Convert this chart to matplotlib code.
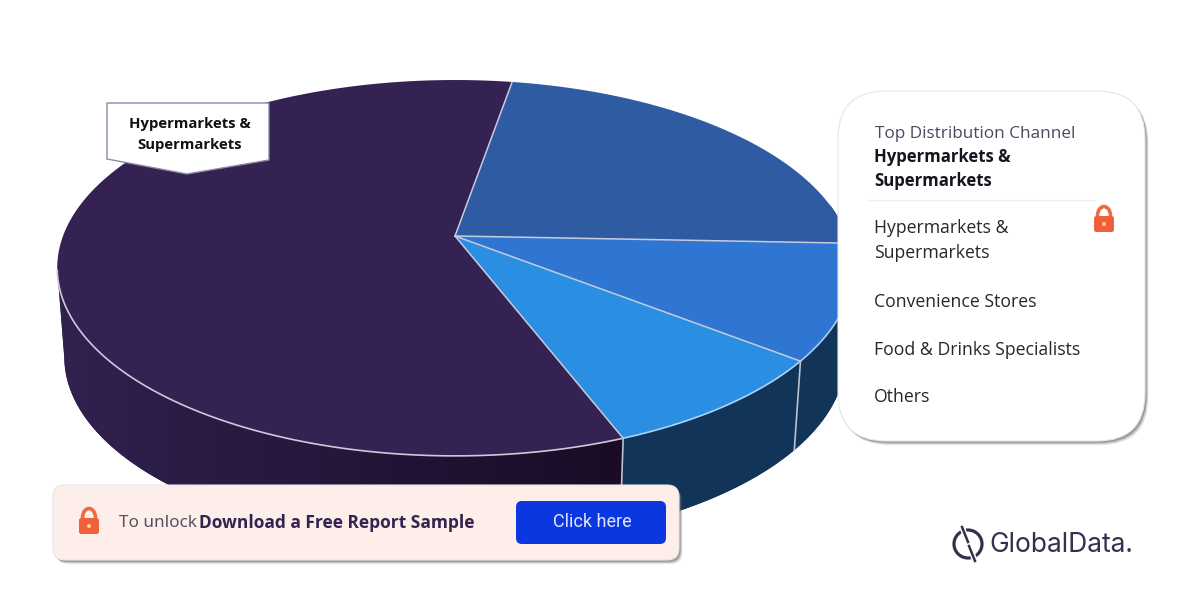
import numpy as np
import matplotlib
matplotlib.use("Agg")
import matplotlib.pyplot as plt
from matplotlib.patches import FancyBboxPatch, Polygon, Circle, Arc
from matplotlib.colors import LinearSegmentedColormap

# shares of the pie, clockwise from the top edge
channels = ["Convenience Stores", "Food & Drinks Specialists", "Others", "Hypermarkets & Supermarkets"]
shares = [22.9, 9.9, 8.6, 58.6]
start_angle = 80.2

top_colors = ["#2f5ba3", "#2f76d2", "#2a8fe3", "#342352"]
rim_colors = ["#c9d4ea", "#a9cdf2", "#a9d4f5", "#cfc8dc"]

legend_items = ["Hypermarkets &\nSupermarkets", "Convenience Stores", "Food & Drinks Specialists", "Others"]
legend_y = [240.5, 302, 350, 397.5]

plt.rcParams["font.family"] = ["Open Sans", "DejaVu Sans"]

fig = plt.figure(figsize=(12, 6), dpi=100)
ax = fig.add_axes([0, 0, 1, 1])


def top_xy(t):
    # perspective view of the pie's upper face
    t = np.radians(t)
    w = 1 + 0.17 * np.sin(t)
    return 455 + 392 * np.cos(t) / w, 236 - 182.5 * np.sin(t) / w


def low_xy(t):
    # same thing for the bottom edge of the wall
    t = np.radians(t)
    w = 1 + 0.17 * np.sin(t)
    return 455 + 385 * np.cos(t) / w, 325 - 182.5 * np.sin(t) / w


def wall(t1, t2, c_left, c_right):
    ts = np.linspace(t1, t2, 120)
    xa, ya = top_xy(ts)
    xb, yb = low_xy(ts)
    pts = np.column_stack([np.r_[xa, xb[::-1]], np.r_[ya, yb[::-1]]])
    poly = Polygon(pts, closed=True, fc=c_left, ec="none", zorder=1)
    ax.add_patch(poly)
    cmap = LinearSegmentedColormap.from_list("w", [c_left, c_right])
    im = ax.imshow(np.linspace(0, 1, 200).reshape(1, -1), cmap=cmap, aspect="auto", zorder=1.1,
                   extent=[pts[:, 0].min(), pts[:, 0].max(), 600, 0])
    im.set_clip_path(poly)


def lock(cx, cy):
    ax.add_patch(Arc((cx, cy - 4), 13, 19, theta1=180, theta2=360, ec="#ee6a45", lw=2.6, zorder=8))
    ax.add_patch(FancyBboxPatch((cx - 10, cy - 4), 20, 16, boxstyle="round,pad=0,rounding_size=2.5",
                                fc="#f0603a", ec="none", zorder=8))
    ax.add_patch(Circle((cx, cy + 4), 2, fc="#fbd38a", ec="none", zorder=9))


def card(x, y, w, h, r, fc):
    for off, a in [(6, 0.10), (5, 0.16), (4, 0.22), (3, 0.30), (2, 0.35)]:
        ax.add_patch(FancyBboxPatch((x + off * 0.6, y + off * 0.7), w, h, boxstyle=f"round,pad=0,rounding_size={r}",
                                    fc="#6f6f6f", ec="none", alpha=a, zorder=5))
    ax.add_patch(FancyBboxPatch((x, y), w, h, boxstyle=f"round,pad=0,rounding_size={r}",
                                fc=fc, ec="#e6e6ea", lw=0.8, zorder=6))


# slice boundaries
edges = start_angle - np.cumsum([0] + shares) * 3.6

# side walls
wall(edges[3], -170, "#30214f", "#1a0b26")
wall(edges[3], 10, "#123459", "#12355a")

# upper face
for i in range(len(shares)):
    ts = np.linspace(edges[i], edges[i + 1], 200)
    x, y = top_xy(ts)
    ax.fill(np.r_[455, x], np.r_[236, y], color=top_colors[i], lw=0, zorder=2)
for i in range(len(shares)):
    ts = np.linspace(edges[i], edges[i + 1], 200)
    x, y = top_xy(ts)
    front = (ts < 0) & (ts > -170)
    ax.plot(x[front], y[front], color=rim_colors[i], lw=1.2, zorder=3)
    ex, ey = top_xy(edges[i])
    ax.plot([455, ex], [236, ey], color="#c4cbe0", lw=1.1, zorder=3)

# seams on the wall
for t in [edges[2], edges[3]]:
    xa, ya = top_xy(t)
    xb, yb = low_xy(t)
    ax.plot([xa, xb], [ya, yb], color="#b9c3d2", lw=1.2, zorder=3)

# callout on the big slice
ax.add_patch(Polygon([(107, 103), (269, 103), (269, 160), (187, 174), (107, 159)], closed=True,
                     fc="white", ec="#8d88a6", lw=1.0, zorder=4))
ax.text(190, 134.5, "Hypermarkets &\nSupermarkets", ha="center", va="center", fontsize=10.7,
        fontweight="bold", color="#111111", linespacing=1.55, zorder=5)

# legend card
card(838, 91, 307, 350, 48, "white")
ax.text(875, 134.5, "Top Distribution Channel", fontsize=12.3, color="#4b4860", va="center", zorder=7)
ax.text(874, 169, "Hypermarkets &\nSupermarkets", fontsize=12.1, fontweight="bold", color="#15151f",
        va="center", linespacing=1.47, zorder=7)
ax.plot([867, 1095], [200, 200], color="#efefef", lw=1, zorder=7)
for label, y in zip(legend_items, legend_y):
    ax.text(874, y, label, fontsize=12.7, color="#26262e", va="center", linespacing=1.55, zorder=7)
lock(1104, 220)

# banner
card(53, 485, 626, 75, 12, "#fdeee9")
lock(89, 522)
ax.text(119, 523, "To unlock", fontsize=12.3, color="#55505f", va="center", family=["Noto Sans", "DejaVu Sans"], zorder=7)
ax.text(199, 523, "Download a Free Report Sample", fontsize=12.5, fontweight="bold", color="#35224f", va="center",
        family=["Open Sans", "DejaVu Sans"], zorder=7)
ax.add_patch(FancyBboxPatch((516, 501), 150, 43, boxstyle="round,pad=0,rounding_size=6", fc="#0a37e0", ec="none", zorder=7))
ax.text(592, 522, "Click here", fontsize=13, color="#dfe6ff", ha="center", va="center",
        family=["Roboto", "DejaVu Sans"], zorder=8)

# logo
ax.add_patch(Circle((968, 544), 14, fc="none", ec="#35304f", lw=2.3, zorder=7))
ax.plot([962, 975], [527, 561], color="white", lw=4, zorder=7.1)
ax.plot([962, 968], [527, 542], color="#35304f", lw=1.8, zorder=7.2)
ax.plot([969, 975], [546, 561], color="#35304f", lw=1.8, zorder=7.2)
ax.text(989, 545, "GlobalData.", fontsize=19, color="#35304f", va="center",
        family=["Inter", "DejaVu Sans"], zorder=7)

ax.set_xlim(0, 1200)
ax.set_ylim(600, 0)
ax.axis("off")
fig.savefig("out.png", dpi=100, facecolor="white")
